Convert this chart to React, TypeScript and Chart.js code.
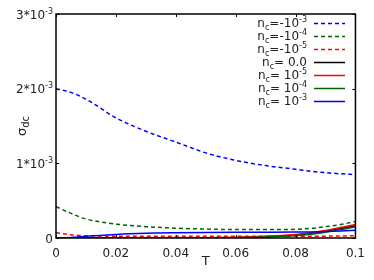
import React, { useEffect, useRef } from "react";
import { Chart, registerables } from "chart.js";

Chart.register(...registerables);

// Temperature grid
const T = [0, 0.005, 0.01, 0.02, 0.03, 0.04, 0.05, 0.06, 0.07, 0.08, 0.085, 0.09, 0.095, 0.1];

// sigma_dc values in units of 10^-3
const ncNeg3 = [2.0, 1.95, 1.86, 1.61, 1.43, 1.285, 1.14, 1.04, 0.97, 0.92, 0.895, 0.875, 0.86, 0.85];
const ncNeg4 = [0.42, 0.33, 0.255, 0.186, 0.152, 0.132, 0.12, 0.113, 0.113, 0.117, 0.128, 0.151, 0.18, 0.222];
const ncNeg5 = [0.072, 0.042, 0.03, 0.024, 0.022, 0.022, 0.022, 0.022, 0.022, 0.023, 0.024, 0.025, 0.027, 0.03];
const ncZero = [0, 0, 0, 0, 0, 0.001, 0.002, 0.005, 0.016, 0.04, 0.06, 0.09, 0.125, 0.165];
const ncPos5 = [0, 0, 0, 0, 0.001, 0.002, 0.004, 0.01, 0.024, 0.047, 0.07, 0.1, 0.14, 0.18];
const ncPos4 = [0, 0, 0, 0, 0, 0.001, 0.002, 0.004, 0.012, 0.032, 0.05, 0.078, 0.112, 0.152];
const ncPos3 = [0, 0.008, 0.022, 0.048, 0.063, 0.07, 0.074, 0.076, 0.077, 0.079, 0.082, 0.087, 0.094, 0.104];

// legend labels: main text after "n_c" and exponent
const legendMain = ["=-10", "=-10", "=-10", "= 0.0", "= 10", "= 10", "= 10"];
const legendExp = ["-3", "-4", "-5", "", "-5", "-4", "-3"];
const seriesColors = ["#0000ff", "#006400", "#ff0000", "#000000", "#ff0000", "#006400", "#0000ff"];
const seriesDashed = [true, true, true, false, false, false, false];
const seriesValues = [ncNeg3, ncNeg4, ncNeg5, ncZero, ncPos5, ncPos4, ncPos3];

// axis ticks
const xTicks = [0, 0.02, 0.04, 0.06, 0.08, 0.1];
const xTickLabels = ["0", "0.02", "0.04", "0.06", "0.08", "0.1"];
const yTicks = [0, 1, 2, 3];
const yTickMain = ["0", "1*10", "2*10", "3*10"];
const yTickExp = ["", "-3", "-3", "-3"];

const FONT = "'DejaVu Sans', sans-serif";
const DASH = [4, 3];

const decorPlugin = {
  id: "decor",
  afterDraw(chart: any) {
    const ctx = chart.ctx as CanvasRenderingContext2D;
    const { left, right, top, bottom } = chart.chartArea;
    const xs = chart.scales.x;
    const ys = chart.scales.y;
    ctx.save();
    // border
    ctx.strokeStyle = "#000";
    ctx.lineWidth = 1.5;
    ctx.setLineDash([]);
    ctx.strokeRect(left, top, right - left, bottom - top);
    // tick marks (inside)
    ctx.lineWidth = 1;
    xTicks.forEach((v) => {
      const px = Math.round(xs.getPixelForValue(v)) + 0.5;
      ctx.beginPath();
      ctx.moveTo(px, bottom);
      ctx.lineTo(px, bottom - 3);
      ctx.moveTo(px, top);
      ctx.lineTo(px, top + 3);
      ctx.stroke();
    });
    yTicks.forEach((v) => {
      const py = Math.round(ys.getPixelForValue(v)) + 0.5;
      ctx.beginPath();
      ctx.moveTo(left, py);
      ctx.lineTo(left + 3, py);
      ctx.moveTo(right, py);
      ctx.lineTo(right - 3, py);
      ctx.stroke();
    });
    // y tick labels with superscripts
    ctx.fillStyle = "#222";
    ctx.textBaseline = "alphabetic";
    yTicks.forEach((v, i) => {
      const py = ys.getPixelForValue(v);
      const rightX = left - 3;
      ctx.font = `8px ${FONT}`;
      const ew = yTickExp[i] ? ctx.measureText(yTickExp[i]).width : 0;
      ctx.font = `12px ${FONT}`;
      const mw = ctx.measureText(yTickMain[i]).width;
      const x0 = rightX - ew - mw;
      ctx.textAlign = "left";
      ctx.fillText(yTickMain[i], x0, py + 4.5);
      if (yTickExp[i]) {
        ctx.font = `8px ${FONT}`;
        ctx.fillText(yTickExp[i], x0 + mw, py - 0.5);
      }
    });
    // y axis title sigma_dc
    ctx.save();
    ctx.translate(26, 126);
    ctx.rotate(-Math.PI / 2);
    ctx.font = `13px ${FONT}`;
    const sw = ctx.measureText("σ").width;
    ctx.font = `10px ${FONT}`;
    const dw = ctx.measureText("dc").width;
    const tx = -(sw + dw) / 2;
    ctx.font = `13px ${FONT}`;
    ctx.fillText("σ", tx, 0);
    ctx.font = `10px ${FONT}`;
    ctx.fillText("dc", tx + sw, 3);
    ctx.restore();
    // x axis title
    ctx.font = `13px ${FONT}`;
    ctx.textAlign = "center";
    ctx.fillText("T", (left + right) / 2, 265);
    // legend
    const rowY0 = 23;
    const rowH = 13;
    const textRight = 307;
    const lineX0 = 314;
    const lineX1 = 345;
    legendMain.forEach((m, i) => {
      const y = rowY0 + i * rowH;
      ctx.textAlign = "left";
      ctx.font = `12px ${FONT}`;
      const nw = ctx.measureText("n").width;
      const mw = ctx.measureText(m).width;
      ctx.font = `8px ${FONT}`;
      const cw = ctx.measureText("c").width;
      const ew = legendExp[i] ? ctx.measureText(legendExp[i]).width : 0;
      let x = textRight - (nw + cw + mw + ew);
      ctx.fillStyle = "#222";
      ctx.font = `12px ${FONT}`;
      ctx.fillText("n", x, y + 4.3);
      x += nw;
      ctx.font = `8px ${FONT}`;
      ctx.fillText("c", x, y + 7);
      x += cw;
      ctx.font = `12px ${FONT}`;
      ctx.fillText(m, x, y + 4.3);
      x += mw;
      if (legendExp[i]) {
        ctx.font = `8px ${FONT}`;
        ctx.fillText(legendExp[i], x, y - 1);
      }
      ctx.strokeStyle = seriesColors[i];
      ctx.lineWidth = 1.5;
      ctx.setLineDash(seriesDashed[i] ? DASH : []);
      ctx.beginPath();
      ctx.moveTo(lineX0, y + 0.5);
      ctx.lineTo(lineX1, y + 0.5);
      ctx.stroke();
    });
    ctx.restore();
  },
};

export default function App() {
  const ref = useRef<HTMLCanvasElement | null>(null);
  useEffect(() => {
    document.body.style.margin = "0";
    const canvas = ref.current;
    if (!canvas) return;
    const datasets = seriesValues.map((vals, i) => ({
      label: "n_c" + legendMain[i] + legendExp[i],
      data: T.map((t, j) => ({ x: t, y: vals[j] })),
      borderColor: seriesColors[i],
      backgroundColor: seriesColors[i],
      borderWidth: 1.5,
      borderDash: seriesDashed[i] ? DASH : [],
      pointRadius: 0,
      cubicInterpolationMode: "monotone" as const,
      fill: false,
      order: 7 - i,
    }));
    const chart = new Chart(canvas, {
      type: "line",
      data: { datasets },
      options: {
        animation: false,
        responsive: false,
        maintainAspectRatio: false,
        layout: { padding: { left: 0, right: 18, top: 14, bottom: 0 } },
        plugins: { legend: { display: false }, tooltip: { enabled: false } },
        scales: {
          x: {
            type: "linear",
            min: 0,
            max: 0.1,
            afterBuildTicks: (scale: any) => {
              scale.ticks = xTicks.map((v) => ({ value: v }));
            },
            afterFit: (scale: any) => {
              scale.height = 42;
            },
            grid: { display: false, drawTicks: false },
            border: { display: false },
            ticks: {
              padding: 9,
              color: "#222",
              font: { family: "DejaVu Sans", size: 12 },
              maxRotation: 0,
              autoSkip: false,
              callback: (v: any) => {
                const idx = xTicks.findIndex((t) => Math.abs(t - Number(v)) < 1e-9);
                return idx >= 0 ? xTickLabels[idx] : "";
              },
            },
          },
          y: {
            type: "linear",
            min: 0,
            max: 3,
            afterFit: (scale: any) => {
              scale.width = 56;
            },
            grid: { display: false, drawTicks: false },
            border: { display: false },
            ticks: { display: false, stepSize: 1 },
          },
        },
      },
      plugins: [decorPlugin],
    });
    return () => chart.destroy();
  }, []);
  return (
    <div style={{ position: "absolute", left: 0, top: 0, width: 374, height: 280 }}>
      <canvas ref={ref} width={374} height={280} style={{ width: 374, height: 280 }} />
    </div>
  );
}
